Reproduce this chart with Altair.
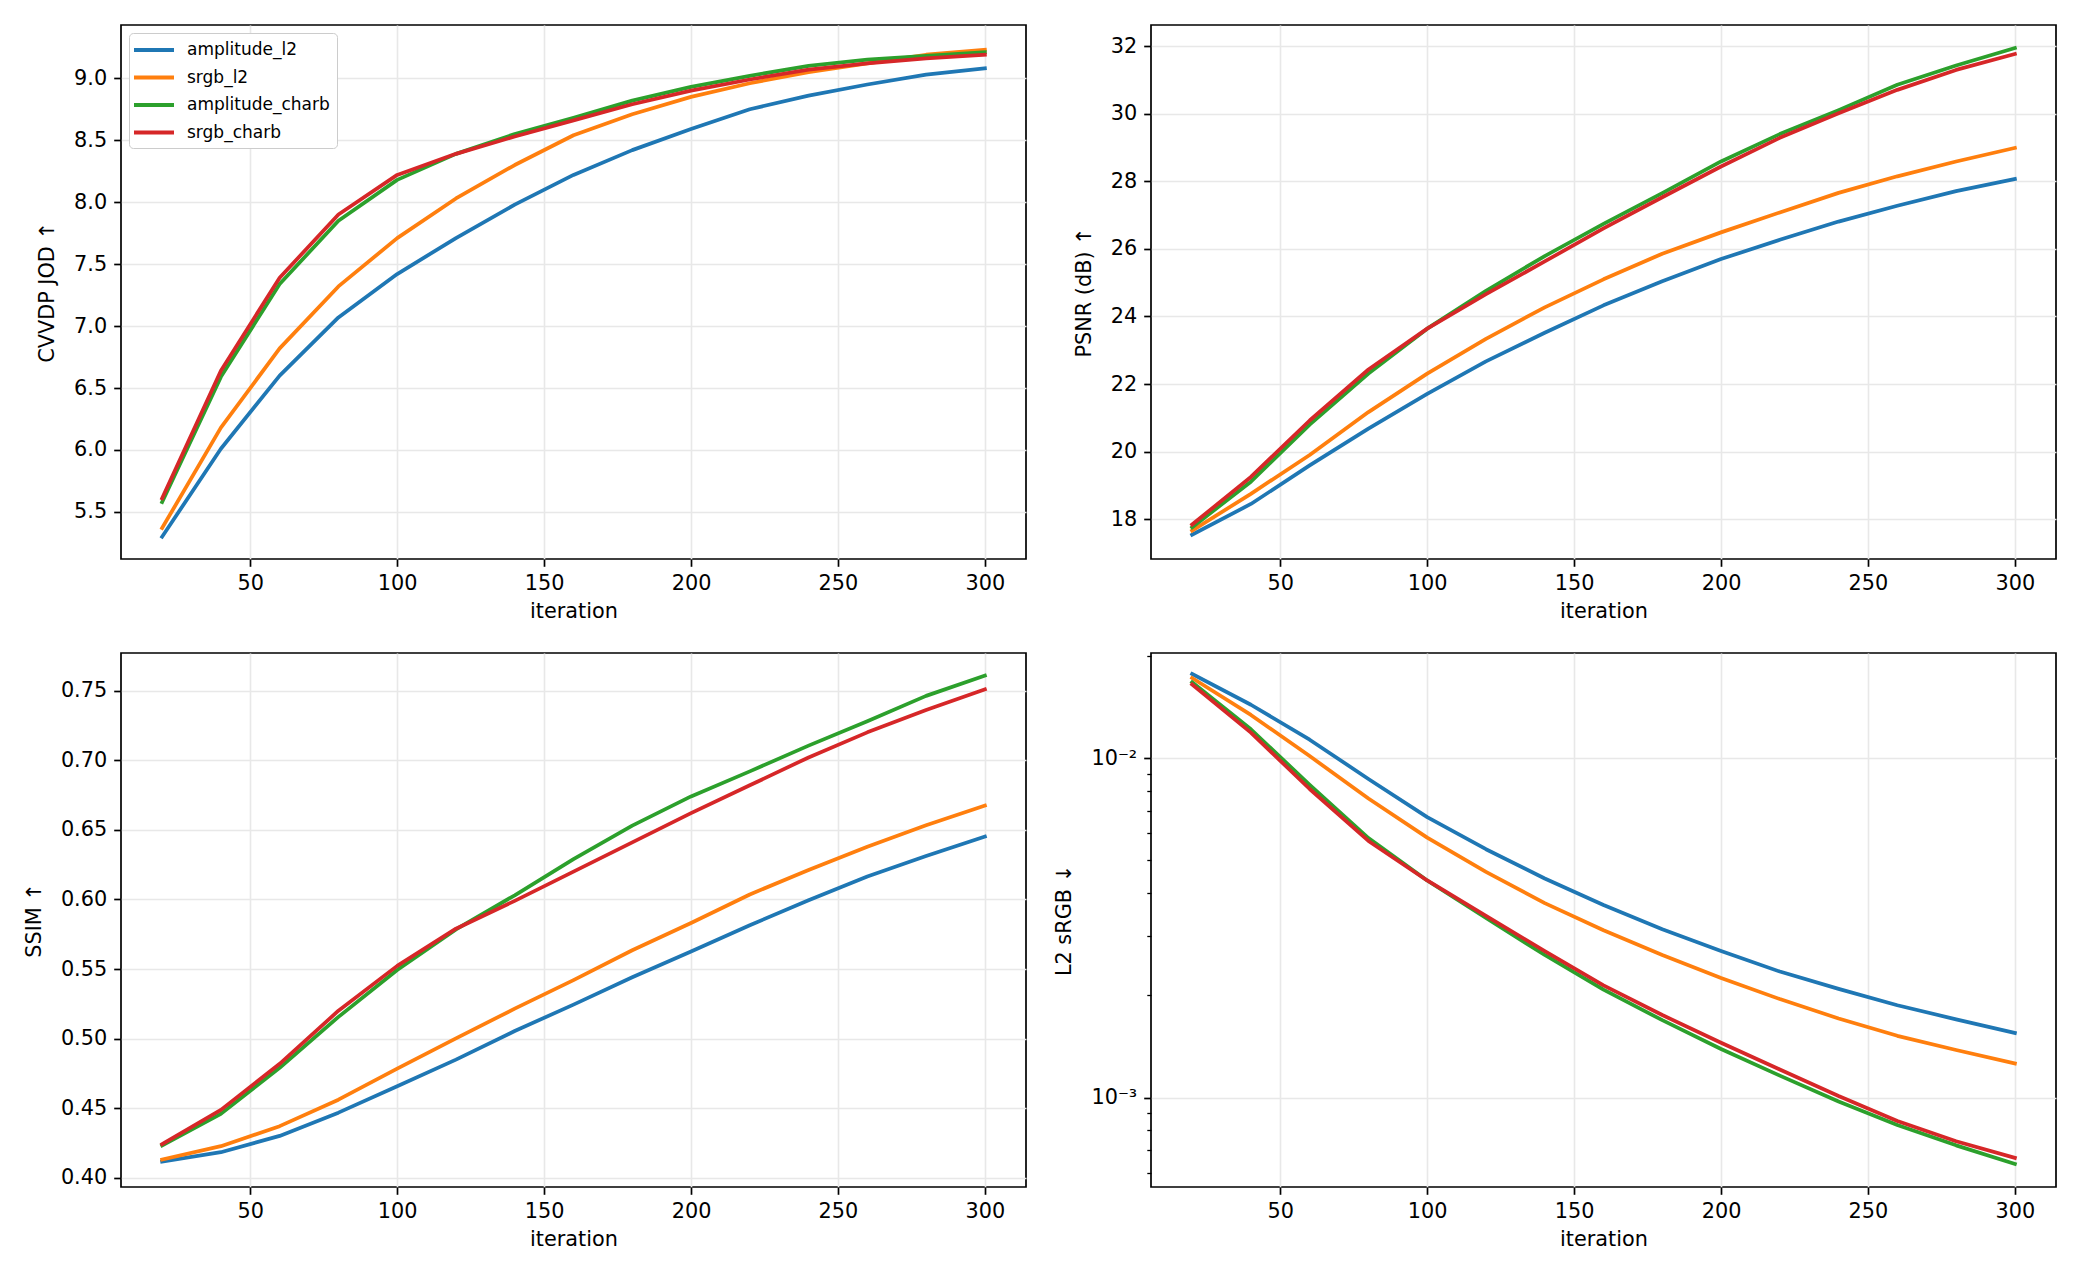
import altair as alt
import pandas as pd

# Training iterations at which each run was evaluated
ITERATIONS = [20, 40, 60, 80, 100, 120, 140, 160, 180, 200, 220, 240, 260, 280, 300]

SERIES = ["amplitude_l2", "srgb_l2", "amplitude_charb", "srgb_charb"]
COLORS = ["#1f77b4", "#ff7f0e", "#2ca02c", "#d62728"]

# CVVDP JOD (higher is better)
CVVDP_AMPLITUDE_L2 = [5.30, 6.01, 6.60, 7.07, 7.42, 7.71, 7.98, 8.22, 8.42, 8.59, 8.75, 8.86, 8.95, 9.03, 9.08]
CVVDP_SRGB_L2 = [5.37, 6.18, 6.82, 7.32, 7.71, 8.03, 8.30, 8.54, 8.71, 8.85, 8.96, 9.05, 9.12, 9.19, 9.23]
CVVDP_AMPLITUDE_CHARB = [5.58, 6.59, 7.34, 7.85, 8.18, 8.39, 8.55, 8.68, 8.82, 8.93, 9.02, 9.10, 9.15, 9.18, 9.21]
CVVDP_SRGB_CHARB = [5.61, 6.64, 7.39, 7.90, 8.22, 8.39, 8.53, 8.66, 8.79, 8.90, 8.99, 9.07, 9.12, 9.16, 9.19]

# PSNR in dB (higher is better)
PSNR_AMPLITUDE_L2 = [17.54, 18.45, 19.59, 20.68, 21.71, 22.67, 23.52, 24.33, 25.04, 25.70, 26.27, 26.81, 27.28, 27.71, 28.07]
PSNR_SRGB_L2 = [17.66, 18.75, 19.90, 21.17, 22.31, 23.34, 24.27, 25.10, 25.86, 26.49, 27.08, 27.66, 28.15, 28.59, 28.99]
PSNR_AMPLITUDE_CHARB = [17.76, 19.11, 20.80, 22.31, 23.64, 24.76, 25.79, 26.74, 27.65, 28.59, 29.40, 30.11, 30.86, 31.43, 31.95]
PSNR_SRGB_CHARB = [17.84, 19.25, 20.92, 22.43, 23.64, 24.66, 25.63, 26.61, 27.53, 28.44, 29.29, 30.02, 30.71, 31.30, 31.77]

# SSIM (higher is better)
SSIM_AMPLITUDE_L2 = [0.4117, 0.4185, 0.4302, 0.4469, 0.4659, 0.4850, 0.5055, 0.5245, 0.5441, 0.5626, 0.5815, 0.5995, 0.6165, 0.6312, 0.6452]
SSIM_SRGB_L2 = [0.4132, 0.4228, 0.4372, 0.4562, 0.4785, 0.5002, 0.5216, 0.5421, 0.5635, 0.5831, 0.6036, 0.6212, 0.6379, 0.6533, 0.6674]
SSIM_AMPLITUDE_CHARB = [0.4234, 0.4460, 0.4791, 0.5157, 0.5494, 0.5785, 0.6030, 0.6290, 0.6530, 0.6740, 0.6920, 0.7105, 0.7280, 0.7462, 0.7608]
SSIM_SRGB_CHARB = [0.4243, 0.4489, 0.4820, 0.5201, 0.5523, 0.5790, 0.5990, 0.6200, 0.6410, 0.6620, 0.6820, 0.7020, 0.7200, 0.7360, 0.7509]

# L2 error in sRGB (lower is better)
L2_AMPLITUDE_L2 = [0.01770, 0.01436, 0.01133, 0.00868, 0.00670, 0.00539, 0.00442, 0.00369, 0.00313, 0.00270, 0.00235, 0.00209, 0.00187, 0.00170, 0.00155]
L2_SRGB_L2 = [0.01722, 0.01340, 0.01014, 0.00760, 0.00583, 0.00462, 0.00374, 0.00311, 0.00263, 0.00225, 0.00195, 0.00171, 0.00152, 0.00138, 0.00126]
L2_AMPLITUDE_CHARB = [0.01672, 0.01216, 0.00834, 0.00581, 0.00436, 0.00338, 0.00263, 0.00208, 0.00169, 0.00139, 0.00116, 0.000973, 0.000830, 0.000723, 0.000637]
L2_SRGB_CHARB = [0.01648, 0.01189, 0.00811, 0.00570, 0.00436, 0.00343, 0.00270, 0.00214, 0.00175, 0.00145, 0.00121, 0.00101, 0.000853, 0.000743, 0.000664]

# Tick positions
X_TICKS = [50, 100, 150, 200, 250, 300]
CVVDP_TICKS = [5.5, 6.0, 6.5, 7.0, 7.5, 8.0, 8.5, 9.0]
PSNR_TICKS = [18, 20, 22, 24, 26, 28, 30, 32]
SSIM_TICKS = [0.40, 0.45, 0.50, 0.55, 0.60, 0.65, 0.70, 0.75]
L2_MAJOR_TICKS = [0.001, 0.01]
L2_MINOR_TICKS = [0.0006, 0.0007, 0.0008, 0.0009, 0.002, 0.003, 0.004, 0.005,
                  0.006, 0.007, 0.008, 0.009, 0.02]

FONT = "DejaVu Sans"
PANEL_W = 905
PANEL_H = 534


def long_table(columns):
    rows = []
    for name, values in zip(SERIES, columns):
        for it, v in zip(ITERATIONS, values):
            rows.append({"iteration": it, "series": name, "value": v})
    return pd.DataFrame(rows)


def color_enc(show_legend):
    if show_legend:
        # Wide, flat line handle: a custom path scaled by sqrt(size)/2
        legend = alt.Legend(
            title=None, orient="top-left", offset=8,
            symbolType="M-2.5,0H2.5", symbolSize=256, symbolStrokeWidth=4,
            symbolOffset=8,
            labelFont=FONT, labelFontSize=17, labelColor="black",
            labelOffset=23, rowPadding=9.5, padding=7,
            strokeColor="#cccccc", fillColor="white", cornerRadius=4,
        )
    else:
        legend = None
    return alt.Color("series:N", sort=SERIES,
                     scale=alt.Scale(domain=SERIES, range=COLORS),
                     legend=legend)


def x_enc():
    return alt.X("iteration:Q",
                 scale=alt.Scale(domain=[6, 314], nice=False, zero=False),
                 axis=alt.Axis(title="iteration", values=X_TICKS, labelFlush=False,
                               titlePadding=8))


def line_panel(columns, title, domain, ticks, fmt, show_legend=False):
    df = long_table(columns)
    return alt.Chart(df).mark_line(
        strokeWidth=3.75, strokeJoin="round", strokeCap="square"
    ).encode(
        x=x_enc(),
        y=alt.Y("value:Q",
                scale=alt.Scale(domain=domain, nice=False, zero=False),
                axis=alt.Axis(title=title, values=ticks, format=fmt, labelFlush=False,
                              titlePadding=16)),
        color=color_enc(show_legend),
        order=alt.Order("iteration:Q"),
    ).properties(width=PANEL_W, height=PANEL_H)


p_cvvdp = line_panel([CVVDP_AMPLITUDE_L2, CVVDP_SRGB_L2, CVVDP_AMPLITUDE_CHARB, CVVDP_SRGB_CHARB],
                     "CVVDP JOD ↑", [5.12, 9.43], CVVDP_TICKS, ".1f", show_legend=True)
p_psnr = line_panel([PSNR_AMPLITUDE_L2, PSNR_SRGB_L2, PSNR_AMPLITUDE_CHARB, PSNR_SRGB_CHARB],
                    "PSNR (dB) ↑", [16.82, 32.63], PSNR_TICKS, "d")
p_ssim = line_panel([SSIM_AMPLITUDE_L2, SSIM_SRGB_L2, SSIM_AMPLITUDE_CHARB, SSIM_SRGB_CHARB],
                    "SSIM ↑", [0.3935, 0.777], SSIM_TICKS, ".2f")

# Log-scaled L2 panel: major decade ticks with grid, plus unlabeled minor ticks
l2_scale = alt.Scale(type="log", domain=[0.000545, 0.0204], nice=False)
l2_lines = alt.Chart(long_table([L2_AMPLITUDE_L2, L2_SRGB_L2, L2_AMPLITUDE_CHARB, L2_SRGB_CHARB])).mark_line(
    strokeWidth=3.75, strokeJoin="round", strokeCap="square"
).encode(
    x=x_enc(),
    y=alt.Y("value:Q", scale=l2_scale,
            axis=alt.Axis(title="L2 sRGB ↓", values=L2_MAJOR_TICKS, orient="left",
                          titlePadding=16,
                          labelExpr="datum.value > 0.005 ? '10⁻²' : '10⁻³'")),
    color=color_enc(False),
    order=alt.Order("iteration:Q"),
)
l2_minor = alt.Chart(pd.DataFrame({"tick": L2_MINOR_TICKS})).mark_point(opacity=0).encode(
    y=alt.Y("tick:Q", scale=l2_scale,
            axis=alt.Axis(title=None, values=L2_MINOR_TICKS, orient="left", labels=False,
                          grid=False, domain=False, tickSize=4.2, tickWidth=1.3)),
)
p_l2 = alt.layer(l2_lines, l2_minor).resolve_axis(y="independent").properties(
    width=PANEL_W, height=PANEL_H)

chart = alt.concat(
    p_cvvdp, p_psnr, p_ssim, p_l2, columns=2,
    spacing={"row": 30, "column": 26},
).resolve_scale(
    color="independent"
).resolve_legend(
    color="independent"
).properties(
    padding={"left": 22, "top": 24, "right": 22, "bottom": 10},
    background="white",
).configure_view(
    stroke="black", strokeWidth=1.7,
).configure_axis(
    labelFont=FONT, titleFont=FONT,
    labelFontSize=20.8, titleFontSize=20.8,
    titleFontWeight="normal",
    labelColor="black", titleColor="black",
    tickColor="black", tickSize=7.3, tickWidth=1.7,
    labelPadding=7,
    gridColor="#e8e8e8", gridWidth=1.6,
    domain=False,
)

chart.save("out.html", embed_options={"renderer": "svg", "actions": False})
